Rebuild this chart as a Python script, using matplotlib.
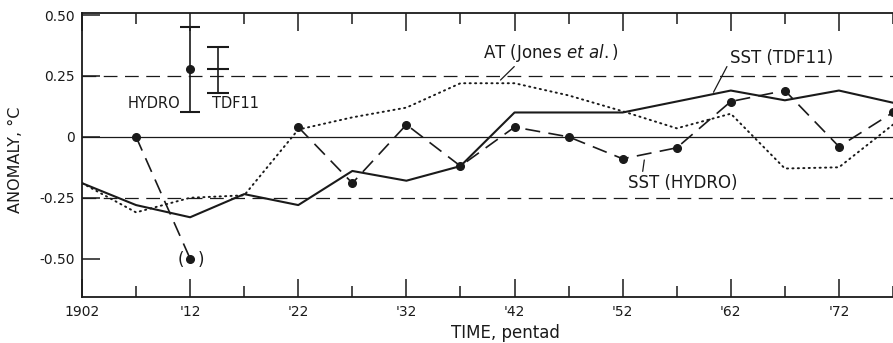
import numpy as np
import matplotlib
matplotlib.use('Agg')
import matplotlib.pyplot as plt

# pentad years
years = [1902, 1907, 1912, 1917, 1922, 1927, 1932, 1937,
         1942, 1947, 1952, 1957, 1962, 1967, 1972, 1977]

# SST (TDF11), solid line
sst_tdf11 = [-0.19, -0.28, -0.33, -0.235, -0.28, -0.14, -0.18, -0.12,
             0.10, 0.10, 0.10, 0.145, 0.19, 0.15, 0.19, 0.14]

# AT (Jones et al.), dotted line
at_jones = [-0.19, -0.31, -0.25, -0.24, 0.03, 0.08, 0.12, 0.22,
            0.22, 0.17, 0.105, 0.035, 0.095, -0.13, -0.125, 0.05]

# SST (HYDRO), dashed line with dots (gap at 1917, none at 1902)
sst_hydro = [np.nan, 0.0, -0.50, np.nan, 0.04, -0.19, 0.05, -0.12,
             0.04, 0.0, -0.09, -0.045, 0.145, 0.19, -0.04, 0.10]

# error bars shown in the upper left
err_x = [1912, 1914.6]
err_mid = [0.28, 0.28]
err_lo = [0.10, 0.18]
err_hi = [0.45, 0.37]
err_names = ['HYDRO', 'TDF11']

major_ticks = [1902, 1912, 1922, 1932, 1942, 1952, 1962, 1972]
major_labels = ['1902', "'12", "'22", "'32", "'42", "'52", "'62", "'72"]
minor_ticks = [1907, 1917, 1927, 1937, 1947, 1957, 1967, 1977]
y_ticks = [0.50, 0.25, 0, -0.25, -0.50]
y_labels = ['0.50', '0.25', '0', '-0.25', '-0.50']

INK = '#1a1a1a'
plt.rcParams['font.family'] = ['DejaVu Sans']

fig = plt.figure(figsize=(8.93, 3.43), dpi=100)
ax = fig.add_axes([82/893, 1 - 296.7/343, 1 - 82/893, 283.4/343])
ax.set_xlim(1902, 1976.2)
ax.set_ylim(-0.656, 0.507)

# reference lines
ax.axhline(0, color=INK, lw=0.9)
ax.axhline(0.25, color=INK, lw=0.9, dashes=(11, 6))
ax.axhline(-0.25, color=INK, lw=0.9, dashes=(11, 6))

ax.plot(years, sst_tdf11, color=INK, lw=1.5)
ax.plot(years, at_jones, color=INK, lw=1.4, ls=(0, (0.6, 2.2)), dash_capstyle='round')
ax.plot(years, sst_hydro, color=INK, lw=1.2, dashes=(9, 5),
        marker='o', markersize=5.5, markerfacecolor=INK, markeredgecolor=INK)

# error bars
ax.errorbar(err_x[0], err_mid[0], yerr=[[err_mid[0] - err_lo[0]], [err_hi[0] - err_mid[0]]],
            color=INK, lw=1.2, capsize=7, capthick=1.5, marker='o', markersize=5.5)
ax.errorbar(err_x[1], err_mid[1], yerr=[[err_mid[1] - err_lo[1]], [err_hi[1] - err_mid[1]]],
            color=INK, lw=1.2, capsize=8, capthick=1.5, marker='_', markersize=16,
            markeredgewidth=1.5)
ax.text(1906.2, 0.138, err_names[0], fontsize=10.5, color=INK, va='center')
ax.text(1914.0, 0.138, err_names[1], fontsize=10.5, color=INK, va='center')

# parentheses around the 1912 HYDRO value
ax.text(1911.1, -0.505, '(', fontsize=12, color=INK, ha='center', va='center')
ax.text(1913.0, -0.505, ')', fontsize=12, color=INK, ha='center', va='center')

# curve labels with leader lines
ax.annotate(r'AT (Jones $\mathit{et\ al.}$)', xy=(1940.7, 0.233), xytext=(1939.1, 0.345),
            fontsize=12, color=INK, va='center',
            arrowprops=dict(arrowstyle='-', color=INK, lw=0.9, shrinkA=0, shrinkB=0,
                            relpos=(0.25, 0.0)))
ax.annotate('SST (TDF11)', xy=(1960.4, 0.183), xytext=(1961.9, 0.325),
            fontsize=12, color=INK, va='center',
            arrowprops=dict(arrowstyle='-', color=INK, lw=0.9, shrinkA=0, shrinkB=0,
                            relpos=(0.0, 0.3)))
ax.annotate('SST (HYDRO)', xy=(1954.0, -0.095), xytext=(1952.5, -0.19),
            fontsize=12, color=INK, va='center',
            arrowprops=dict(arrowstyle='-', color=INK, lw=0.9, shrinkA=0, shrinkB=0,
                            relpos=(0.13, 1.0)))

# axes styling
for side in ['left', 'top', 'bottom']:
    ax.spines[side].set_linewidth(1.3)
    ax.spines[side].set_color(INK)
ax.spines['right'].set_visible(False)

ax.set_xticks(major_ticks)
ax.set_xticklabels(major_labels)
ax.set_xticks(minor_ticks, minor=True)
ax.set_yticks(y_ticks)
ax.set_yticklabels(y_labels)
ax.tick_params(which='major', direction='in', length=13, width=1.1, color=INK,
               top=True, labelsize=10, labelcolor=INK, pad=6)
ax.tick_params(which='minor', direction='in', length=8, width=1.1, color=INK, top=True)
ax.tick_params(axis='y', pad=5, labelsize=10)

ax.set_xlabel('TIME, pentad', fontsize=12, color=INK)
ax.xaxis.set_label_coords(0.5216, -0.095)
ax.set_ylabel('ANOMALY, \u00b0C', fontsize=11.5, color=INK)
ax.yaxis.set_label_coords(-0.0727, 0.482)

fig.savefig('out.png', dpi=100)
